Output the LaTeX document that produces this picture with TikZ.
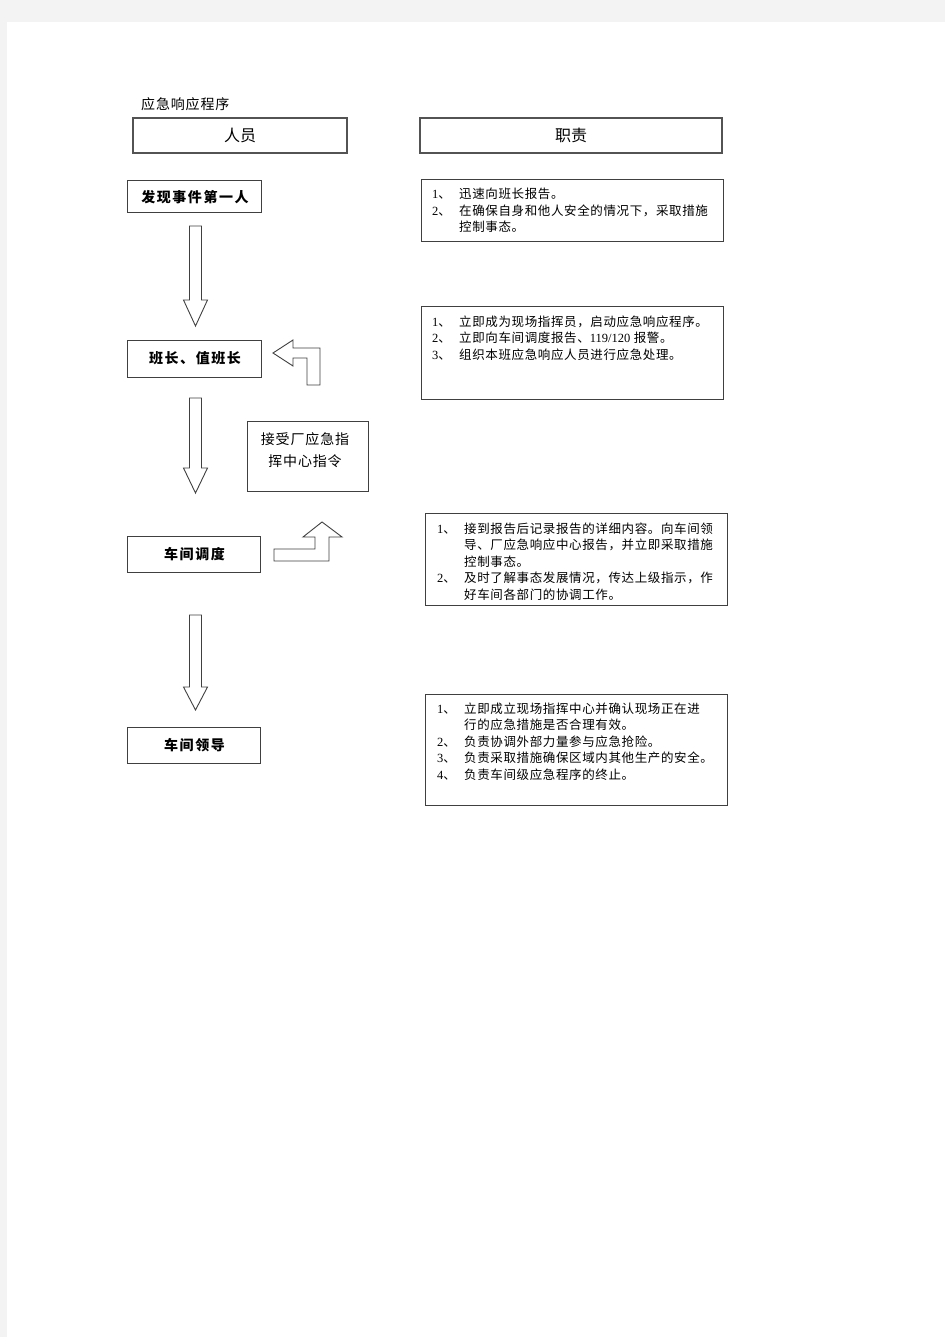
\documentclass[tikz,border=0pt]{standalone}
\usepackage{fontspec}
\setmainfont{Liberation Serif}
\newfontfamily\cjk[LetterSpace=5]{Noto Sans CJK SC}
\newfontfamily\cjkwide[LetterSpace=11]{Noto Sans CJK SC}
\newfontfamily\cjktitle[LetterSpace=6]{Noto Sans CJK SC}
\newfontfamily\cjkplain{Noto Sans CJK SC}
\definecolor{pagegray}{HTML}{F3F3F3}
\definecolor{edge}{HTML}{404040}
\newcommand\numit[2]{\makebox[27pt][l]{\rmfamily #1\cjk 、}#2}
\newcommand\cont[1]{\hspace*{27pt}#1}
\begin{document}
\begin{tikzpicture}[x=1pt,y=-1pt,
  box/.style={draw=edge, line width=1pt, rectangle, inner sep=0pt},
  headbox/.style={box, line width=1.4pt, draw=edge!90, font=\cjkplain\fontsize{16}{18}\selectfont},
  lbox/.style={box, font=\cjkwide\bfseries\fontsize{14}{16}\selectfont},
  rtext/.style={anchor=base west, inner sep=0pt, font=\cjk\fontsize{12.5}{16.5}\selectfont},
  blockarrow/.style={draw=edge, line width=0.9pt, fill=white, line join=miter}
]
\useasboundingbox (0,0) rectangle (945,1337);
\fill[pagegray] (0,0) rectangle (945,1337);
\fill[white] (7,22) rectangle (945,1337);

% title
\node[anchor=west, inner sep=0pt, font=\cjktitle\fontsize{14}{16}\selectfont] (title) at (141,104.5) {应急响应程序};

% headers
\node[headbox, minimum width=214pt, minimum height=35pt] (hpeople) at (240,135.5) {人员};
\node[headbox, minimum width=302pt, minimum height=35pt] (hduty) at (571,135.5) {职责};

% left column
\node[lbox, minimum width=134pt, minimum height=32pt] (p1) at (194,197) {\hspace*{2pt}发现事件第一人};
\node[lbox, minimum width=134pt, minimum height=37pt] (p2) at (194,358.5) {\hspace*{2pt}班长、值班长};
\node[lbox, minimum width=133pt, minimum height=36pt] (p3) at (193.5,554) {\hspace*{2pt}车间调度};
\node[lbox, minimum width=133pt, minimum height=36pt] (p4) at (193.5,745) {\hspace*{2pt}车间领导};

% side command box
\node[box, minimum width=121pt, minimum height=70pt] (cmd) at (307.5,456) {};
\node[align=center, inner sep=0pt, font=\cjktitle\fontsize{14}{22}\selectfont] (cmdtext) at (305,450) {接受厂应急指\\挥中心指令};

% block arrows down
\newcommand\blockdown[4]{%
  \draw[blockarrow] (#1-6,#2) -- (#1+6,#2) -- (#1+6,#3) -- (#1+12,#3) -- (#1,#4) -- (#1-12,#3) -- (#1-6,#3) -- cycle;}
\blockdown{195.5}{226}{300}{326}
\blockdown{195.5}{398}{468}{493}
\blockdown{195.5}{615}{687}{710}

% bent arrows
\draw[blockarrow] (273,353) -- (293,340) -- (293,348) -- (320,348) -- (320,385) -- (307,385) -- (307,358) -- (293,358) -- (293,366) -- cycle;
\draw[blockarrow] (274,549) -- (315,549) -- (315,537) -- (303,537) -- (322,522) -- (342,537) -- (329,537) -- (329,561) -- (274,561) -- cycle;

% right column boxes
\node[box, minimum width=302pt, minimum height=62pt] (r1) at (572,211) {};
\node[box, minimum width=302pt, minimum height=93pt] (r2) at (572,352.5) {};
\node[box, minimum width=302pt, minimum height=92pt] (r3) at (576,559) {};
\node[box, minimum width=302pt, minimum height=111pt] (r4) at (576,749.5) {};

\node[rtext] (r1a) at (432,199) {\numit{1}{迅速向班长报告。}};
\node[rtext] (r1b) at (432,215.5) {\numit{2}{在确保自身和他人安全的情况下，采取措施}};
\node[rtext] (r1c) at (432,232) {\cont{控制事态。}};

\node[rtext] (r2a) at (432,326) {\numit{1}{立即成为现场指挥员，启动应急响应程序。}};
\node[rtext] (r2b) at (432,342.5) {\numit{2}{立即向车间调度报告、{\rmfamily 119/120} 报警。}};
\node[rtext] (r2c) at (432,359) {\numit{3}{组织本班应急响应人员进行应急处理。}};

\node[rtext] (r3a) at (437,533) {\numit{1}{接到报告后记录报告的详细内容。向车间领}};
\node[rtext] (r3b) at (437,549.5) {\cont{导、厂应急响应中心报告，并立即采取措施}};
\node[rtext] (r3c) at (437,566) {\cont{控制事态。}};
\node[rtext] (r3d) at (437,582.5) {\numit{2}{及时了解事态发展情况，传达上级指示，作}};
\node[rtext] (r3e) at (437,599) {\cont{好车间各部门的协调工作。}};

\node[rtext] (r4a) at (437,713) {\numit{1}{立即成立现场指挥中心并确认现场正在进}};
\node[rtext] (r4b) at (437,729.5) {\cont{行的应急措施是否合理有效。}};
\node[rtext] (r4c) at (437,746) {\numit{2}{负责协调外部力量参与应急抢险。}};
\node[rtext] (r4d) at (437,762.5) {\numit{3}{负责采取措施确保区域内其他生产的安全。}};
\node[rtext] (r4e) at (437,779) {\numit{4}{负责车间级应急程序的终止。}};
\end{tikzpicture}
\end{document}
